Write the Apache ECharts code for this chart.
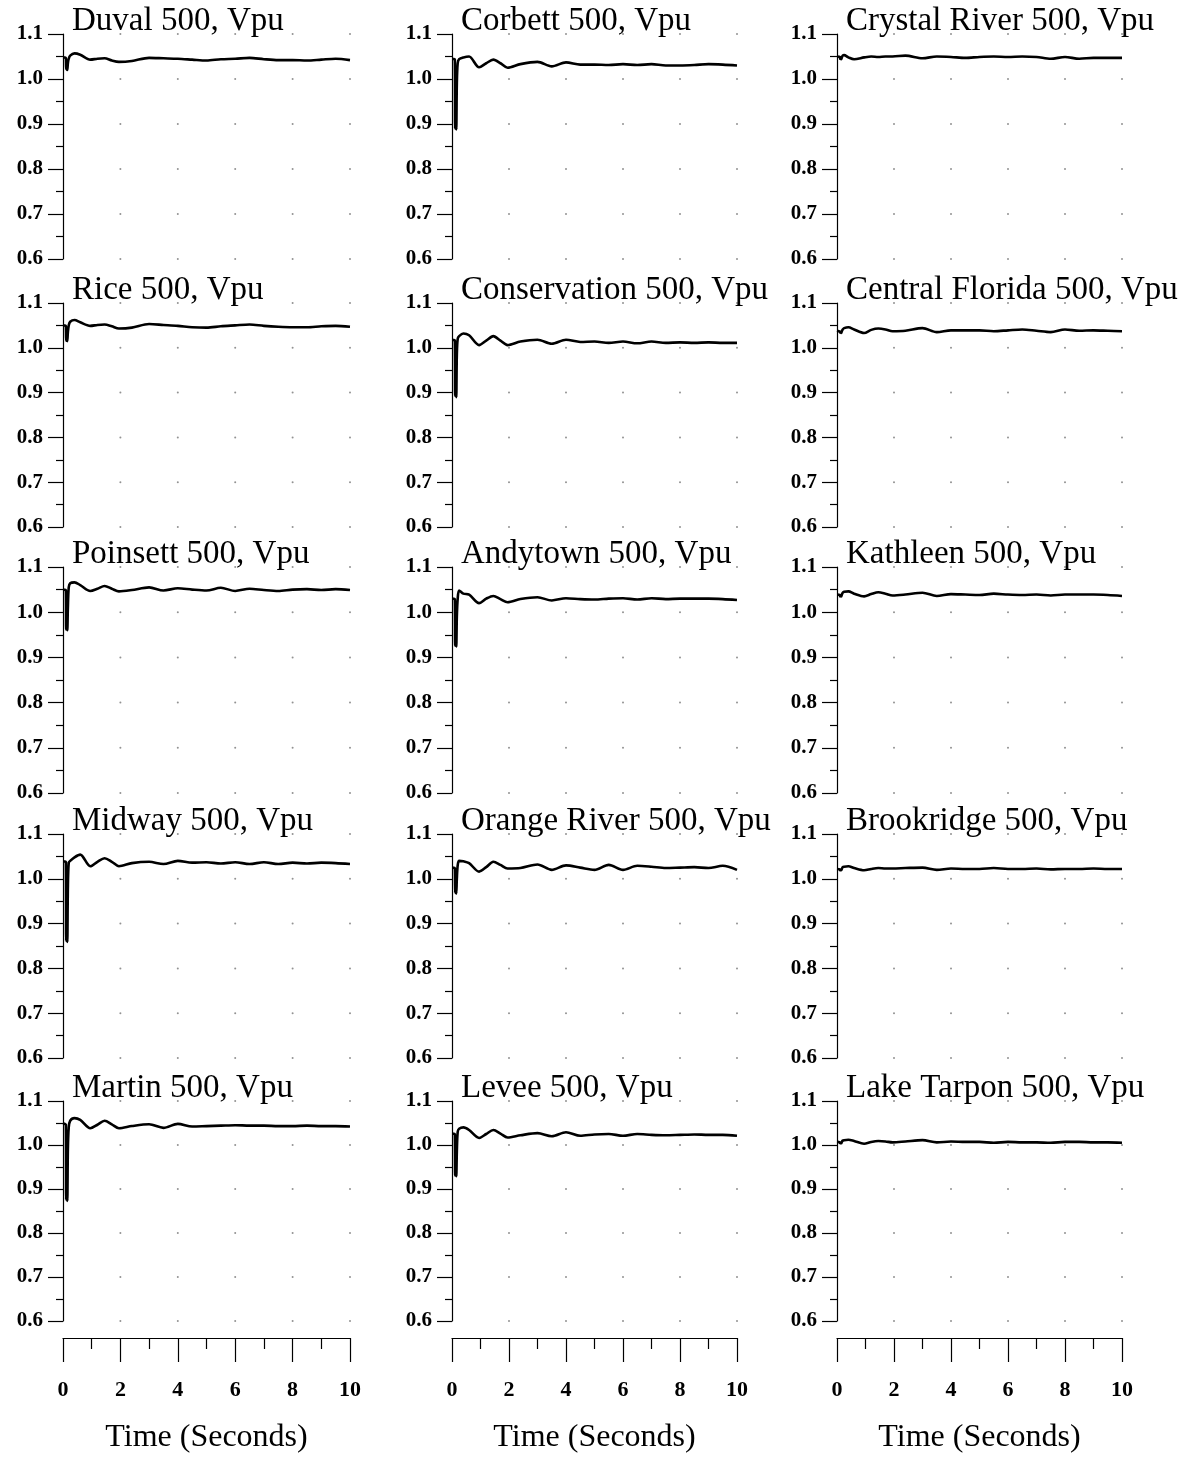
<!DOCTYPE html>
<html><head><meta charset="utf-8">
<script src="https://cdn.jsdelivr.net/npm/echarts@6/dist/echarts.min.js"></script>
<style>html,body{margin:0;padding:0;background:#fff}#c{width:1184px;height:1471px}</style>
</head><body><div id="c"></div>
<script>
// time samples (seconds)
const time = [0, 0.1, 0.11, 0.13, 0.15, 0.17, 0.2, 0.25, 0.4, 0.6, 0.95, 1.2, 1.45, 1.7, 1.95, 2.4, 3.0, 3.5, 4.0, 4.5, 5.0, 5.5, 6.0, 6.5, 7.0, 7.5, 8.0, 8.5, 9.0, 9.5, 10];

// bus voltages (per unit)
const duval        = [1.048,1.046,1.022,1.030,1.020,1.035,1.045,1.052,1.057,1.054,1.043,1.045,1.046,1.041,1.038,1.040,1.047,1.046,1.045,1.043,1.041,1.044,1.045,1.047,1.044,1.042,1.042,1.041,1.043,1.045,1.042];
const corbett      = [1.045,1.043,0.890,0.960,0.888,0.990,1.035,1.044,1.048,1.050,1.026,1.035,1.043,1.035,1.025,1.033,1.038,1.028,1.037,1.032,1.032,1.031,1.033,1.031,1.033,1.030,1.030,1.031,1.033,1.032,1.030];
const crystalRiver = [1.050,1.049,1.045,1.047,1.044,1.048,1.052,1.053,1.048,1.044,1.048,1.050,1.049,1.050,1.050,1.052,1.046,1.050,1.049,1.047,1.049,1.050,1.049,1.050,1.049,1.045,1.049,1.045,1.047,1.047,1.047];
const rice         = [1.050,1.048,1.016,1.030,1.015,1.035,1.050,1.058,1.062,1.057,1.049,1.051,1.052,1.048,1.043,1.045,1.053,1.051,1.049,1.046,1.045,1.048,1.050,1.052,1.049,1.047,1.046,1.046,1.048,1.049,1.047];
const conservation = [1.018,1.016,0.893,0.960,0.890,0.985,1.020,1.026,1.032,1.028,1.006,1.016,1.026,1.016,1.006,1.014,1.018,1.009,1.018,1.013,1.014,1.011,1.014,1.010,1.014,1.011,1.012,1.011,1.012,1.011,1.011];
const centralFlorida = [1.038,1.036,1.034,1.035,1.033,1.037,1.041,1.044,1.046,1.041,1.033,1.040,1.043,1.041,1.037,1.038,1.044,1.035,1.039,1.039,1.039,1.037,1.039,1.041,1.038,1.035,1.041,1.038,1.039,1.038,1.037];
const poinsett     = [1.050,1.048,0.962,1.000,0.960,1.010,1.055,1.064,1.066,1.060,1.047,1.052,1.058,1.052,1.046,1.049,1.055,1.048,1.053,1.050,1.048,1.054,1.047,1.052,1.049,1.047,1.050,1.051,1.049,1.051,1.049];
const andytown     = [1.030,1.028,0.926,0.970,0.924,0.990,1.030,1.048,1.041,1.039,1.020,1.030,1.036,1.029,1.022,1.029,1.033,1.026,1.031,1.029,1.028,1.030,1.031,1.028,1.031,1.029,1.030,1.030,1.030,1.029,1.027];
const kathleen     = [1.039,1.038,1.035,1.037,1.035,1.039,1.043,1.045,1.046,1.041,1.035,1.040,1.044,1.041,1.037,1.039,1.043,1.036,1.040,1.039,1.038,1.041,1.039,1.038,1.039,1.037,1.039,1.039,1.039,1.038,1.036];
const midway       = [1.039,1.037,0.862,0.950,0.859,0.980,1.036,1.040,1.048,1.054,1.028,1.038,1.046,1.038,1.028,1.035,1.038,1.033,1.040,1.036,1.037,1.034,1.037,1.033,1.037,1.033,1.036,1.034,1.036,1.035,1.033];
const orangeRiver  = [1.025,1.023,0.969,0.990,0.967,1.000,1.030,1.040,1.039,1.035,1.016,1.026,1.038,1.031,1.023,1.024,1.032,1.020,1.030,1.025,1.020,1.031,1.020,1.029,1.027,1.024,1.025,1.026,1.024,1.029,1.020];
const brookridge   = [1.022,1.021,1.019,1.020,1.019,1.022,1.026,1.027,1.028,1.024,1.019,1.022,1.024,1.023,1.023,1.024,1.025,1.020,1.023,1.022,1.022,1.024,1.022,1.022,1.023,1.021,1.022,1.022,1.023,1.022,1.022];
const martin       = [1.049,1.046,0.876,0.960,0.873,0.990,1.040,1.055,1.061,1.057,1.038,1.046,1.055,1.047,1.038,1.043,1.047,1.039,1.048,1.042,1.043,1.044,1.045,1.044,1.044,1.043,1.043,1.044,1.043,1.043,1.042];
const levee        = [1.026,1.024,0.931,0.970,0.929,0.985,1.030,1.037,1.040,1.034,1.016,1.025,1.034,1.026,1.017,1.022,1.027,1.020,1.029,1.021,1.024,1.025,1.021,1.025,1.023,1.022,1.023,1.024,1.023,1.023,1.021];
const lakeTarpon   = [1.007,1.006,1.004,1.005,1.004,1.007,1.010,1.011,1.012,1.009,1.003,1.007,1.009,1.008,1.006,1.008,1.011,1.006,1.008,1.007,1.007,1.005,1.007,1.006,1.006,1.005,1.007,1.007,1.006,1.006,1.005];

// panel names (row-major) and tick values
const names = ['Duval','Corbett','Crystal River','Rice','Conservation','Central Florida','Poinsett','Andytown','Kathleen','Midway','Orange River','Brookridge','Martin','Levee','Lake Tarpon'];
const values = [duval, corbett, crystalRiver, rice, conservation, centralFlorida, poinsett, andytown, kathleen, midway, orangeRiver, brookridge, martin, levee, lakeTarpon];
const yTicks = [0.6, 0.7, 0.8, 0.9, 1.0, 1.1];
const xTicks = [0, 2, 4, 6, 8, 10];
const xAxisName = 'Time (Seconds)';
const titleSuffix = ' 500, Vpu';

// layout
const colLeft = [63, 452, 837], colWidth = [287, 285, 285];
const rowTop = [34, 303, 567, 834, 1101], rowHeight = [225, 224, 226, 224, 220];
const serif = '"Liberation Serif","Times New Roman",serif';

const grid = [], xAxis = [], yAxis = [], series = [], title = [];
names.forEach((n, i) => {
  const r = Math.floor(i / 3), c = i % 3;
  const bottom = r === 4;
  grid.push({left: colLeft[c], top: rowTop[r], width: colWidth[c], height: rowHeight[r], containLabel: false});
  title.push({text: n + titleSuffix, left: colLeft[c] + 9, top: rowTop[r] - 29, padding: 0,
    textStyle: {fontFamily: serif, fontSize: 33, fontWeight: 'normal', color: '#000', lineHeight: 33}});
  xAxis.push({
    type: 'value', gridIndex: i, min: xTicks[0], max: xTicks[xTicks.length - 1], interval: 2,
    show: bottom, position: 'bottom', offset: 17,
    axisLine: {show: true, onZero: false, lineStyle: {color: '#000', width: 1.2}},
    axisTick: {show: true, inside: false, length: 24, lineStyle: {color: '#000', width: 1.2}},
    minorTick: {show: true, splitNumber: 2, length: 11, lineStyle: {color: '#000', width: 1.2}},
    axisLabel: {show: true, margin: 41, fontFamily: serif, fontSize: 22, fontWeight: 'bold', color: '#000'},
    splitLine: {show: false}, minorSplitLine: {show: false},
    name: bottom ? xAxisName : '', nameLocation: 'middle', nameGap: 84,
    nameTextStyle: {fontFamily: serif, fontSize: 32, color: '#000'}
  });
  yAxis.push({
    type: 'value', gridIndex: i, min: yTicks[0], max: yTicks[yTicks.length - 1], interval: 0.1,
    axisLine: {show: true, onZero: false, lineStyle: {color: '#000', width: 1.2}},
    axisTick: {show: true, inside: false, length: 15, lineStyle: {color: '#000', width: 1.2}},
    minorTick: {show: true, splitNumber: 2, length: 7, lineStyle: {color: '#000', width: 1.2}},
    axisLabel: {margin: 20, fontFamily: serif, fontSize: 21, fontWeight: 'bold', color: '#000',
      formatter: v => v.toFixed(1)},
    splitLine: {show: false}
  });
  // grid dots at tick intersections
  const dots = [];
  xTicks.filter(x => x > 0).forEach(x => yTicks.forEach(y => dots.push([x, y])));
  series.push({type: 'scatter', xAxisIndex: i, yAxisIndex: i, data: dots, symbolSize: 2,
    itemStyle: {color: '#777'}, silent: true, z: 1});
  series.push({type: 'line', xAxisIndex: i, yAxisIndex: i,
    data: time.map((t, k) => [t, values[i][k]]), showSymbol: false, smooth: 0.3,
    lineStyle: {color: '#000', width: 2.6}, z: 3});
});

const chart = echarts.init(document.getElementById('c'), null, {renderer: 'canvas'});
chart.setOption({animation: false, backgroundColor: '#fff', title, grid, xAxis, yAxis, series});
</script></body></html>
